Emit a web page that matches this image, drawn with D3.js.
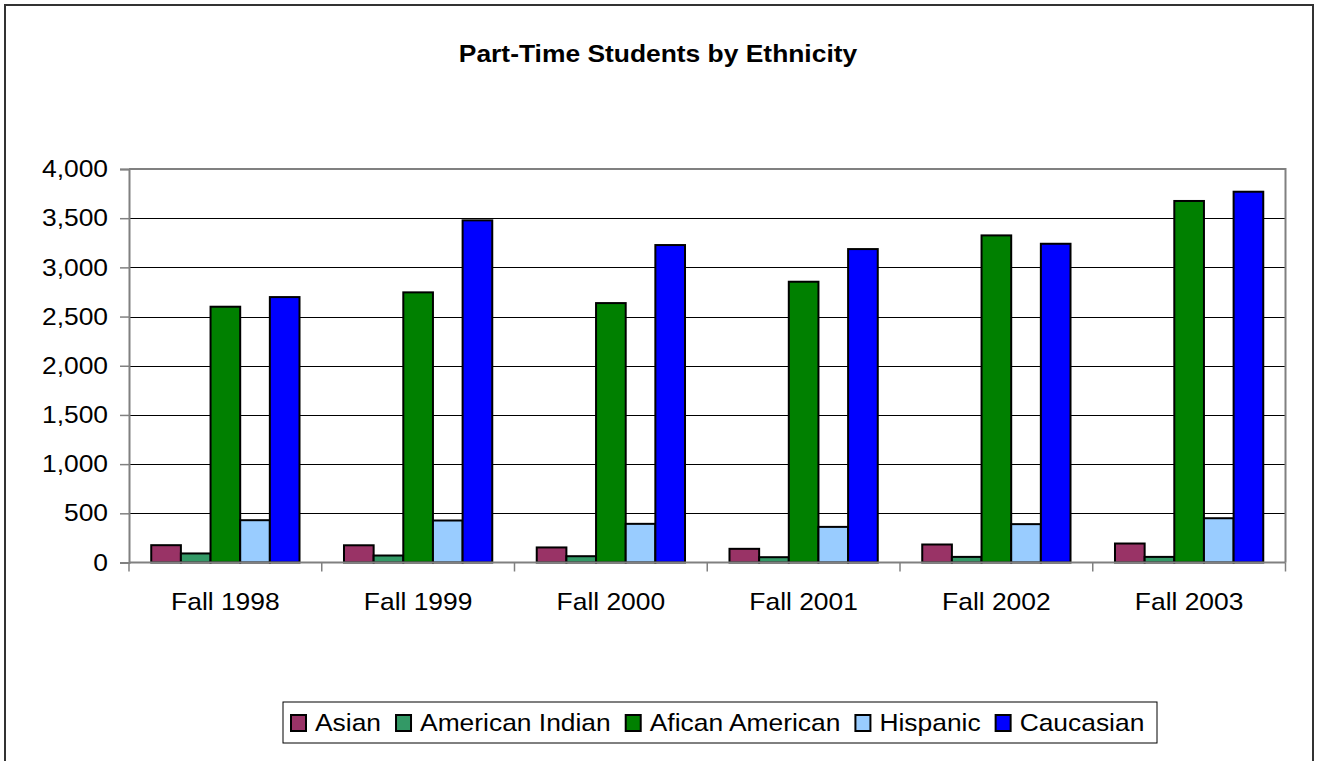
<!DOCTYPE html>
<meta charset="utf-8">
<style>
body { margin: 0; background: #fff; }
text { font-family: "Liberation Sans", Arial, sans-serif; fill: #000; }
.grid line { stroke: #000; stroke-width: 1; shape-rendering: crispEdges; }
.bar { stroke: #000; stroke-width: 2; }
</style>
<svg width="1317" height="761"></svg>
<script src="https://d3js.org/d3.v7.min.js"></script>
<script>

var years = ["Fall 1998", "Fall 1999", "Fall 2000", "Fall 2001", "Fall 2002", "Fall 2003"];
var groups = ["Asian", "American Indian", "Afican American", "Hispanic", "Caucasian"];
var asian = [176, 175, 153, 139, 183, 193];
var amIndian = [92, 71, 64, 54, 57, 57];
var african = [2600, 2746, 2637, 2854, 3325, 3675];
var hispanic = [430, 427, 393, 362, 390, 450];
var caucasian = [2698, 3478, 3227, 3186, 3240, 3769];
var yTicks = [0, 500, 1000, 1500, 2000, 2500, 3000, 3500, 4000];
var colors = ["#993366", "#339966", "#008000", "#99ccff", "#0000ff"];

var series = [asian, amIndian, african, hispanic, caucasian];
var sx = 1.1; // the picture text is a bit wide

var svg = d3.select("svg");

// outer frame
svg.append("rect")
    .attr("x", 5).attr("y", 5)
    .attr("width", 1308).attr("height", 800)
    .attr("fill", "none")
    .attr("stroke", "#333")
    .attr("stroke-width", 2);

var plotLeft = 129, plotRight = 1285.5, plotTop = 169, plotBottom = 562.5;

var x0 = d3.scaleBand().domain(years).range([plotLeft, plotRight]);
var x1 = d3.scaleBand().domain(groups).range([0, x0.bandwidth()]).paddingOuter(0.75);
var y = d3.scaleLinear().domain([0, 4000]).range([plotBottom, plotTop]);

// gridlines
svg.append("g").attr("class", "grid")
  .selectAll("line")
  .data(yTicks.slice(1, -1))
  .enter().append("line")
    .attr("x1", plotLeft).attr("x2", plotRight)
    .attr("y1", function(d) { return Math.round(y(d)) + 0.5; })
    .attr("y2", function(d) { return Math.round(y(d)) + 0.5; });

// plot border top and right
svg.append("path")
    .attr("d", "M" + plotLeft + "," + plotTop + "H" + plotRight + "V" + plotBottom)
    .attr("fill", "none")
    .attr("stroke", "#808080")
    .attr("stroke-width", 2);

// bars
var g = svg.selectAll(".year")
  .data(years)
  .enter().append("g")
    .attr("class", "year")
    .attr("transform", function(d) { return "translate(" + x0(d) + ",0)"; });

g.selectAll("rect")
  .data(function(d, i) { return groups.map(function(k, j) { return {key: k, value: series[j][i], c: colors[j]}; }); })
  .enter().append("rect")
    .attr("class", "bar")
    .attr("x", function(d) { return x1(d.key); })
    .attr("width", x1.bandwidth())
    .attr("y", function(d) { return y(d.value); })
    .attr("height", function(d) { return plotBottom - y(d.value); })
    .attr("fill", function(d) { return d.c; });

// y axis
var yAxis = svg.append("g")
    .attr("transform", "translate(" + plotLeft + ",0)")
    .call(d3.axisLeft(y).tickValues(yTicks).tickSize(9).tickPadding(12).tickFormat(d3.format(",")));
yAxis.select(".domain").attr("stroke", "#808080").attr("stroke-width", 2);
yAxis.selectAll(".tick line").attr("stroke", "#808080").attr("stroke-width", 1.5);
yAxis.selectAll("text")
    .attr("font-family", null).attr("font-size", 24)
    .attr("x", -21 / sx)
    .attr("transform", "scale(" + sx + ",1)");

// x axis line and boundary ticks
var bounds = years.map(function(d) { return x0(d); }).concat([plotRight]);
svg.append("line")
    .attr("x1", plotLeft).attr("x2", plotRight)
    .attr("y1", plotBottom).attr("y2", plotBottom)
    .attr("stroke", "#808080").attr("stroke-width", 2);
svg.selectAll(".xtick")
  .data(bounds)
  .enter().append("line")
    .attr("class", "xtick")
    .attr("x1", function(d) { return d; }).attr("x2", function(d) { return d; })
    .attr("y1", plotBottom).attr("y2", plotBottom + 9)
    .attr("stroke", "#808080").attr("stroke-width", 1.5);

var xAxis = svg.append("g")
    .attr("transform", "translate(0," + plotBottom + ")")
    .call(d3.axisBottom(x0).tickSize(0).tickPadding(30));
xAxis.select(".domain").remove();
xAxis.selectAll("text")
    .attr("font-family", null).attr("font-size", 24)
    .attr("transform", "scale(" + sx + ",1)");
// scale(sx) moves the tick text, so pull x back
xAxis.selectAll(".tick text").attr("x", 0);

// title
svg.append("text")
    .attr("transform", "translate(658,62) scale(" + sx + ",1)")
    .attr("text-anchor", "middle")
    .attr("font-size", 24)
    .attr("font-weight", "bold")
    .text("Part-Time Students by Ethnicity");

// legend
var legend = svg.append("g");
legend.append("rect")
    .attr("x", 283).attr("y", 702)
    .attr("width", 874).attr("height", 41)
    .attr("fill", "#fff")
    .attr("stroke", "#000")
    .attr("stroke-width", 1);

var lx = 291;
groups.forEach(function(k, j) {
  legend.append("rect")
      .attr("class", "bar")
      .attr("x", lx).attr("y", 715)
      .attr("width", 15).attr("height", 16)
      .attr("fill", colors[j]);
  var t = legend.append("text")
      .attr("transform", "translate(" + (lx + 24) + ",731) scale(" + sx + ",1)")
      .attr("font-size", 24)
      .text(k);
  lx += 24 + t.node().getComputedTextLength() * sx + 15;
});

</script>
